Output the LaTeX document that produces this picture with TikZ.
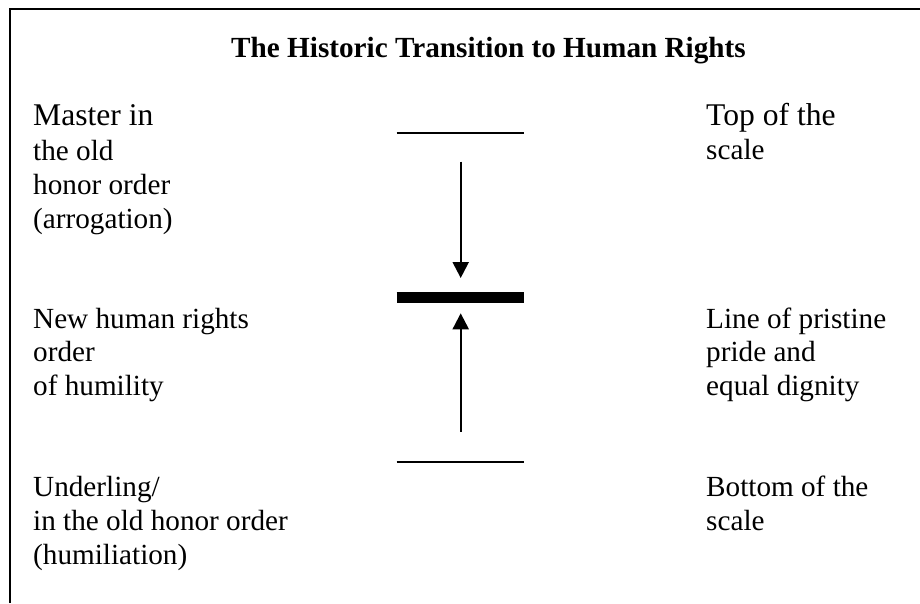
\documentclass[tikz,border=0pt]{standalone}
\usepackage{fontspec}
\setmainfont{Liberation Serif}
\usetikzlibrary{arrows.meta}
\begin{document}
\begin{tikzpicture}[x=1pt,y=-1pt,
  lbl/.style={anchor=base west,inner sep=0pt,
    font=\fontsize{29.2}{33.8}\selectfont},
  big/.style={font=\fontsize{31.6}{33.8}\selectfont},
  ttl/.style={anchor=base,inner sep=0pt,font=\fontsize{29.2}{33.8}\selectfont\bfseries},
  frame/.style={line width=1.8pt,line join=miter},
  scaleline/.style={line width=1.8pt},
  midbar/.style={line width=11.8pt},
  arr/.style={line width=2.2pt,-{Triangle[width=16pt,length=16pt]}}]
\useasboundingbox (0,0) rectangle (920,603);
\fill[white] (0,0) rectangle (920,603);
% frame
\coordinate (fbl) at (10,603);
\coordinate (ftl) at (10,8.7);
\coordinate (ftr) at (920,8.7);
\draw[frame] (fbl) -- (ftl) -- (ftr);
% title
\node[ttl] (title) at (488.5,57.3) {The Historic Transition to Human Rights};
% left labels
\node[lbl,big] (master1) at (33,125) {Master in};
\node[lbl] (master2) at (33,160) {the old};
\node[lbl] (master3) at (33,194) {honor order};
\node[lbl] (master4) at (33,228) {(arrogation)};
\node[lbl] (newhr1) at (33,328.3) {New human rights};
\node[lbl] (newhr2) at (33,361.7) {order};
\node[lbl] (newhr3) at (33,395) {of humility};
\node[lbl] (under1) at (33,496) {Underling/};
\node[lbl] (under2) at (33,530) {in the old honor order};
\node[lbl] (under3) at (33,564) {(humiliation)};
% right labels
\node[lbl,big] (top1) at (706,125) {Top of the};
\node[lbl] (top2) at (706,159.5) {scale};
\node[lbl] (line1) at (706,328.3) {Line of pristine};
\node[lbl] (line2) at (706,361.7) {pride and};
\node[lbl] (line3) at (706,395) {equal dignity};
\node[lbl] (bottom1) at (706,496) {Bottom of the};
\node[lbl] (bottom2) at (706,530) {scale};
% scale lines
\coordinate (tl) at (396.7,132.7);
\coordinate (tr) at (524.3,132.7);
\coordinate (ml) at (396.7,297.4);
\coordinate (mr) at (524.3,297.4);
\coordinate (bl) at (396.7,461.7);
\coordinate (br) at (524.3,461.7);
\draw[scaleline] (tl) -- (tr);
\draw[midbar] (ml) -- (mr);
\draw[scaleline] (bl) -- (br);
% arrows
\coordinate (dstart) at (460.7,161.7);
\coordinate (dend) at (460.7,278);
\coordinate (ustart) at (460.7,431.7);
\coordinate (uend) at (460.7,313.3);
\draw[arr] (dstart) -- (dend);
\draw[arr] (ustart) -- (uend);
\end{tikzpicture}
\end{document}
